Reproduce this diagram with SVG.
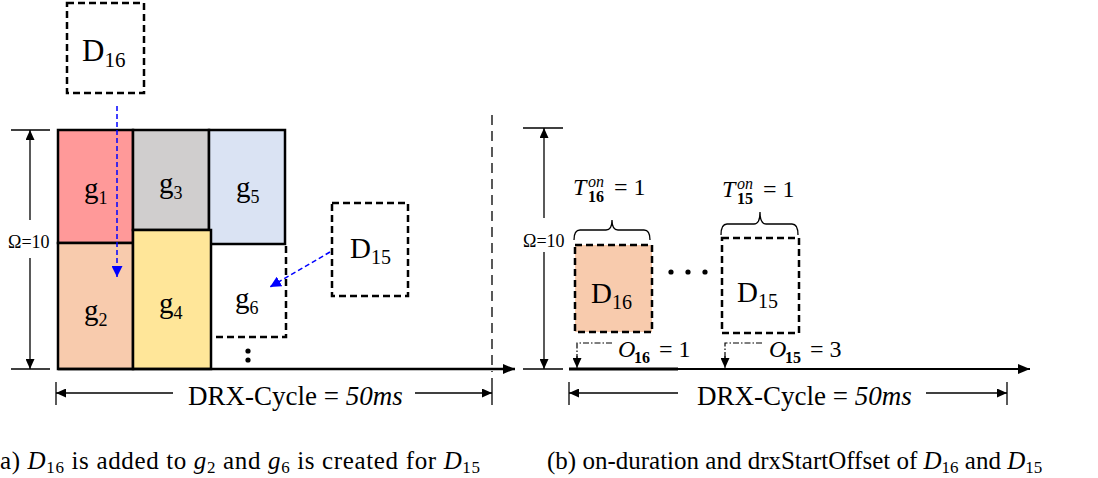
<svg xmlns="http://www.w3.org/2000/svg" width="1098" height="478" viewBox="0 0 1098 478">
<style>
text{fill:#000;font-family:'Liberation Serif','Times New Roman',serif}
.box{stroke:#000;stroke-width:2.5}
.dbox{stroke:#000;stroke-width:2.5;stroke-dasharray:7 4}
.lbl{font-size:29px}
.sub{font-size:18px}
.dim{stroke:#000;stroke-width:1.3;fill:none}
.blue{stroke:#0000FF;stroke-width:1.5;stroke-dasharray:5 3;fill:none}
.dd{stroke:#000;stroke-width:1.2;stroke-dasharray:6 2 1.5 2;fill:none}
.math{font-size:24px}
.msub{font-size:16px}
.cap{font-size:25px}
</style>
<defs>
<marker id="ah" markerUnits="userSpaceOnUse" markerWidth="12" markerHeight="10" refX="12" refY="5" orient="auto"><path d="M0,0 L12,5 L0,10 z" fill="#000"/></marker>
<marker id="ahs" markerUnits="userSpaceOnUse" markerWidth="10" markerHeight="9" refX="10" refY="4.5" orient="auto"><path d="M0,0 L10,4.5 L0,9 z" fill="#000"/></marker>
<marker id="ahb" markerUnits="userSpaceOnUse" markerWidth="11" markerHeight="11" refX="11" refY="5.5" orient="auto"><path d="M0,0 L11,5.5 L0,11 z" fill="#0000FF"/></marker>
</defs>

<g id="g1"><rect class="box" x="58" y="130" width="75" height="113" fill="#FF9999"/><text class="lbl" x="84" y="198">g<tspan class="sub" dy="6">1</tspan></text></g>
<g id="g3"><rect class="box" x="133" y="130" width="76" height="100" fill="#D0CECE"/><text class="lbl" x="159" y="193">g<tspan class="sub" dy="6">3</tspan></text></g>
<g id="g5"><rect class="box" x="209" y="130" width="76" height="114" fill="#DAE3F3"/><text class="lbl" x="236" y="197">g<tspan class="sub" dy="6">5</tspan></text></g>
<g id="g2"><rect class="box" x="58" y="243" width="75" height="126" fill="#F8CBAD"/><text class="lbl" x="84" y="320">g<tspan class="sub" dy="6">2</tspan></text></g>
<g id="g4"><rect class="box" x="133" y="230" width="78" height="139" fill="#FFE699"/><text class="lbl" x="159" y="313">g<tspan class="sub" dy="6">4</tspan></text></g>
<g id="g6"><path class="dbox" d="M286,246 L286,337 L211,337" fill="none"/><text class="lbl" x="235" y="308">g<tspan class="sub" dy="6">6</tspan></text></g>
<g id="dots-left"><circle cx="248" cy="351" r="2.6"/><circle cx="248" cy="360" r="2.6"/></g>

<g id="D16-left"><rect class="dbox" x="67" y="3" width="77" height="90" fill="#fff"/><text x="82" y="61" font-size="31">D<tspan font-size="21" dy="6">16</tspan></text></g>
<g id="D15-left"><rect class="dbox" x="332" y="203" width="76" height="93" fill="#fff"/><text x="350" y="258" font-size="29">D<tspan font-size="20" dy="6">15</tspan></text></g>

<g id="axes-left">
<line x1="58" y1="369" x2="515" y2="369" stroke="#000" stroke-width="2.5" marker-end="url(#ah)"/>
<line x1="11" y1="130" x2="50" y2="130" class="dim"/>
<line x1="11" y1="369" x2="50" y2="369" class="dim"/>
<line x1="30" y1="220" x2="30" y2="130" class="dim" marker-end="url(#ahs)"/>
<line x1="30" y1="258" x2="30" y2="369" class="dim" marker-end="url(#ahs)"/>
<text x="8" y="248" font-size="18">Ω=10</text>
<line x1="492" y1="115" x2="492" y2="372" stroke="#000" stroke-width="1.3" stroke-dasharray="10 6"/>
<line x1="492" y1="378" x2="492" y2="405" class="dim"/>
<line x1="56" y1="382" x2="56" y2="405" class="dim"/>
<line x1="173" y1="393" x2="56" y2="393" class="dim" marker-end="url(#ahs)"/>
<line x1="415" y1="393" x2="492" y2="393" class="dim" marker-end="url(#ahs)"/>
<text x="188" y="405" font-size="27">DRX-Cycle = <tspan font-style="italic">50ms</tspan></text>
</g>

<g id="connectors">
<line class="blue" x1="117" y1="106" x2="117" y2="277" marker-end="url(#ahb)"/>
<line class="blue" x1="330" y1="252" x2="270" y2="287" marker-end="url(#ahb)"/>
</g>

<g id="axes-right">
<line x1="569" y1="369" x2="1030" y2="369" stroke="#000" stroke-width="2.2" marker-end="url(#ah)"/>
<line x1="569" y1="369" x2="678" y2="369" stroke="#000" stroke-width="3"/>
<line x1="523" y1="128" x2="563" y2="128" class="dim"/>
<line x1="523" y1="369" x2="563" y2="369" class="dim"/>
<line x1="544" y1="218" x2="544" y2="128" class="dim" marker-end="url(#ahs)"/>
<line x1="544" y1="252" x2="544" y2="369" class="dim" marker-end="url(#ahs)"/>
<text x="523" y="247" font-size="18">Ω=10</text>
<line x1="569" y1="382" x2="569" y2="405" class="dim"/>
<line x1="1007" y1="382" x2="1007" y2="405" class="dim"/>
<line x1="678" y1="393" x2="569" y2="393" class="dim" marker-end="url(#ahs)"/>
<line x1="926" y1="393" x2="1007" y2="393" class="dim" marker-end="url(#ahs)"/>
<text x="697" y="405" font-size="27">DRX-Cycle = <tspan font-style="italic">50ms</tspan></text>
</g>

<g id="D16-right"><rect class="dbox" x="575" y="245" width="77" height="87" fill="#F8CBAD"/><text x="591" y="303" font-size="29">D<tspan font-size="20" dy="6">16</tspan></text></g>
<g id="D15-right"><rect class="dbox" x="722" y="238" width="77" height="95" fill="#fff"/><text x="737" y="302" font-size="29">D<tspan font-size="20" dy="6">15</tspan></text></g>
<g id="dots-right"><circle cx="671" cy="272" r="2.6"/><circle cx="688" cy="272" r="2.6"/><circle cx="705" cy="272" r="2.6"/></g>

<g id="T16">
<path class="dim" d="M574,240 Q574,230 580,230 L606,230 Q612,230 612,220 Q612,230 618,230 L644,230 Q650,230 650,240" stroke-width="1.2"/>
<text class="math" x="573" y="195" font-style="italic">T</text>
<text class="msub" x="588" y="187" font-style="italic">on</text>
<text class="msub" x="588" y="202" font-weight="bold">16</text>
<text class="math" x="614" y="195">= 1</text>
</g>
<g id="T15">
<path class="dim" d="M721,235 Q721,224 727,224 L754,224 Q760,224 760,212 Q760,224 766,224 L792,224 Q798,224 798,235" stroke-width="1.2"/>
<text class="math" x="722" y="197" font-style="italic">T</text>
<text class="msub" x="737" y="189" font-style="italic">on</text>
<text class="msub" x="737" y="204" font-weight="bold">15</text>
<text class="math" x="763" y="197">= 1</text>
</g>
<g id="O16">
<path class="dd" d="M612,343 L577,343 L577,358"/>
<line x1="577" y1="356" x2="577" y2="368" stroke="#000" stroke-width="1" marker-end="url(#ahs)"/>
<text class="math" x="618" y="357" font-style="italic">O</text>
<text class="msub" x="634" y="363" font-weight="bold">16</text>
<text class="math" x="659" y="357">= 1</text>
</g>
<g id="O15">
<path class="dd" d="M762,343 L725,343 L725,358"/>
<line x1="725" y1="356" x2="725" y2="368" stroke="#000" stroke-width="1" marker-end="url(#ahs)"/>
<text class="math" x="769" y="357" font-style="italic">O</text>
<text class="msub" x="785" y="363" font-weight="bold">15</text>
<text class="math" x="810" y="357">= 3</text>
</g>

<g id="captions">
<text class="cap" x="0" y="469" textLength="480" lengthAdjust="spacing">a) <tspan font-style="italic">D</tspan><tspan font-size="17" dy="4">16</tspan><tspan dy="-4"> is added to </tspan><tspan font-style="italic">g</tspan><tspan font-size="17" dy="4">2</tspan><tspan dy="-4"> and </tspan><tspan font-style="italic">g</tspan><tspan font-size="17" dy="4">6</tspan><tspan dy="-4"> is created for </tspan><tspan font-style="italic">D</tspan><tspan font-size="17" dy="4">15</tspan></text>
<text class="cap" x="547" y="469">(b) on-duration and drxStartOffset of <tspan font-style="italic">D</tspan><tspan font-size="17" dy="4">16</tspan><tspan dy="-4"> and </tspan><tspan font-style="italic">D</tspan><tspan font-size="17" dy="4">15</tspan></text>
</g>
</svg>
